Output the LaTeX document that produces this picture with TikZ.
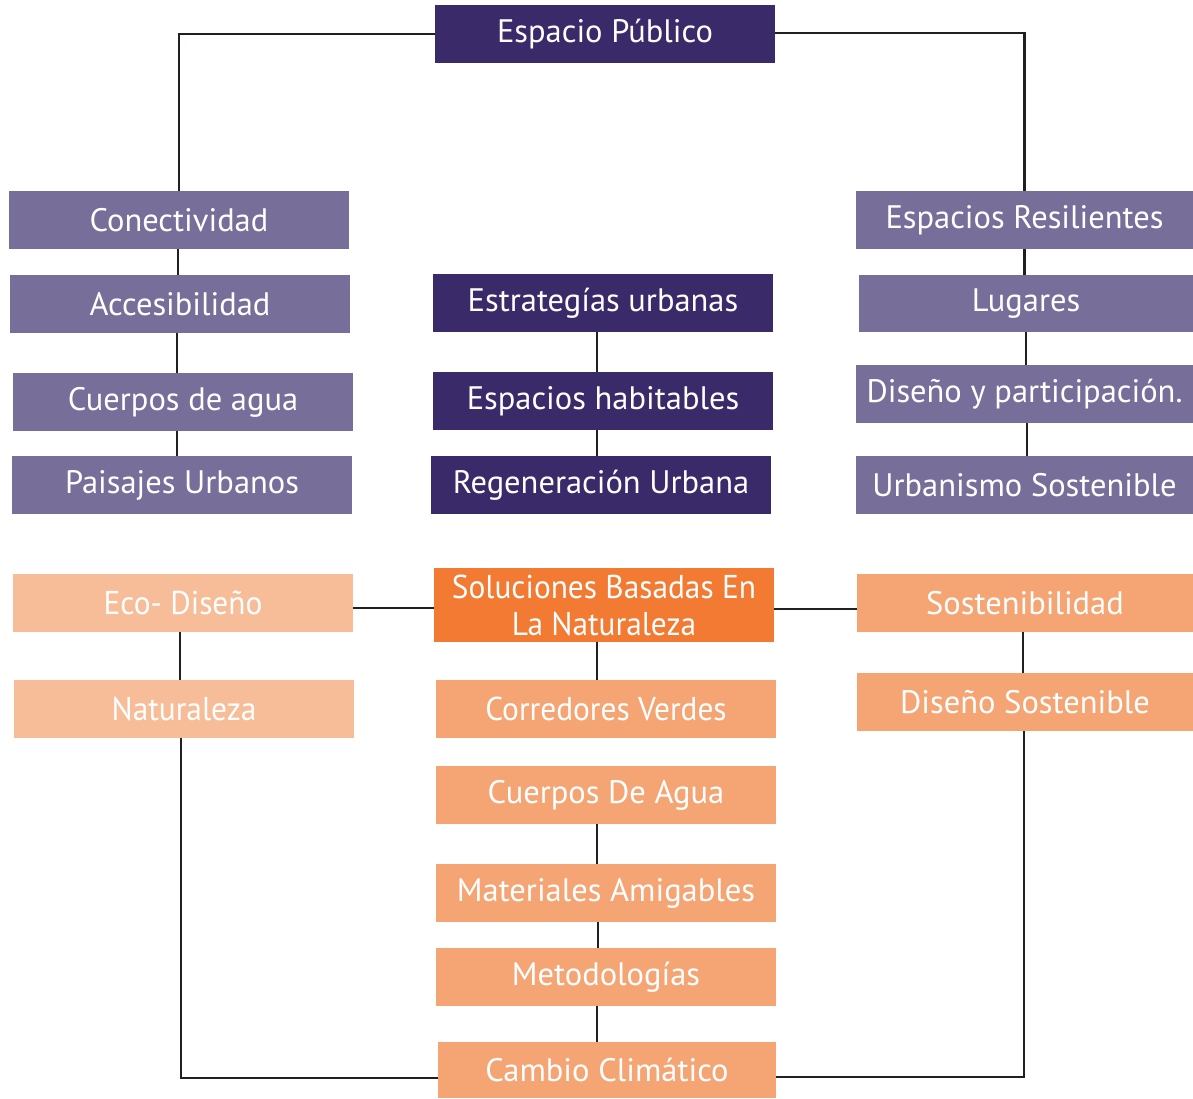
\documentclass[tikz,border=0pt]{standalone}
\usepackage{fontspec}
\setmainfont{PT Sans}
\newfontfamily\condfont[FakeStretch=0.95]{PT Sans}
\definecolor{dpurple}{HTML}{3A2A6A}
\definecolor{mpurple}{HTML}{776E9A}
\definecolor{orng}{HTML}{F27A33}
\definecolor{peach}{HTML}{F5A574}
\definecolor{lpeach}{HTML}{F7BD98}
\definecolor{lineclr}{HTML}{231F20}
\tikzset{
  box/.style={rectangle, minimum width=340pt, minimum height=58pt, inner sep=0pt, text=white, font=\fontsize{32.5}{37}\selectfont, align=center},
  dbox/.style={box, fill=dpurple},
  mbox/.style={box, fill=mpurple},
  obox/.style={box, fill=orng, font=\condfont\fontsize{33}{37}\selectfont},
  pbox/.style={box, fill=peach},
  cbox/.style={box, fill=peach, font=\condfont\fontsize{33}{37}\selectfont},
  lbox/.style={box, fill=lpeach, font=\condfont\fontsize{33}{37}\selectfont},
  conn/.style={draw=lineclr, line width=2.5pt}
}
\begin{document}
\begin{tikzpicture}[x=1pt,y=-1pt]
\useasboundingbox (0,0) rectangle (1193,1099);
% purple level
\node[dbox] (ep) at (605,34) {Espacio Público};
\node[mbox] (con) at (179,220) {Conectividad};
\node[mbox] (acc) at (180,304) {Accesibilidad};
\node[mbox] (cda) at (183,402) {Cuerpos de agua};
\node[mbox] (pai) at (182,485) {Paisajes Urbanos};
\node[dbox] (est) at (603,303) {Estrategías urbanas};
\node[dbox] (hab) at (603,401) {Espacios habitables};
\node[dbox] (reg) at (601,485) {Regeneración Urbana};
\node[mbox, minimum width=337pt] (res) at (1024.5,220) {Espacios Resilientes};
\node[mbox, minimum width=334pt, minimum height=57pt] (lug) at (1026,303.5) {Lugares};
\node[mbox, minimum width=337pt] (dis) at (1024.5,394) {Diseño y participación.};
\node[mbox, minimum width=337pt] (urb) at (1024.5,485) {Urbanismo Sostenible};
% orange level
\node[lbox] (eco) at (183,603) {Eco- Diseño};
\node[lbox] (nat) at (184,709) {Naturaleza};
\node[obox, minimum height=74pt] (sbn) at (604,605) {Soluciones Basadas En\\La Naturaleza};
\node[cbox] (cor) at (606,709) {Corredores Verdes};
\node[pbox] (cda2) at (606,795) {Cuerpos De Agua};
\node[pbox] (mat) at (606,893) {Materiales Amigables};
\node[pbox] (met) at (606,977) {Metodologías};
\node[pbox, minimum width=338pt, minimum height=56pt] (cam) at (607,1070) {Cambio Climático};
\node[pbox, minimum width=336pt] (sos) at (1025,603) {Sostenibilidad};
\node[pbox, minimum width=336pt] (dso) at (1025,702) {Diseño Sostenible};
% connectors
\draw[conn] (ep.west) -| (con.north);
\draw[conn] ([yshift=1pt]ep.east) -| (res.north);
\draw[conn] ([xshift=-1pt]con.south) -- ([xshift=-1pt]con.south |- acc.north);
\draw[conn] ([xshift=-3pt]acc.south) -- ([xshift=-3pt]acc.south |- cda.north);
\draw[conn] ([xshift=-6pt]cda.south) -- ([xshift=-6pt]cda.south |- pai.north);
\draw[conn] ([xshift=-6pt]est.south) -- ([xshift=-6pt]est.south |- hab.north);
\draw[conn] ([xshift=-6pt]hab.south) -- ([xshift=-6pt]hab.south |- reg.north);
\draw[conn] (res.south) -- (res.south |- lug.north);
\draw[conn] (lug.south) -- (lug.south |- dis.north);
\draw[conn] ([xshift=2.5pt]dis.south) -- ([xshift=2.5pt]dis.south |- urb.north);
\draw[conn] ([yshift=-5pt]eco.east) -- ([yshift=-5pt]eco.east -| sbn.west);
\draw[conn] ([yshift=-4pt]sbn.east) -- ([yshift=-4pt]sbn.east -| sos.west);
\draw[conn] ([xshift=-3pt]eco.south) -- ([xshift=-3pt]eco.south |- nat.north);
\draw[conn] ([xshift=-7pt]sbn.south) -- ([xshift=-7pt]sbn.south |- cor.north);
\draw[conn] ([xshift=-9pt]cda2.south) -- ([xshift=-9pt]cda2.south |- mat.north);
\draw[conn] ([xshift=-8pt]mat.south) -- ([xshift=-8pt]mat.south |- met.north);
\draw[conn] ([xshift=-9pt]met.south) -- ([xshift=-9pt]met.south |- cam.north);
\draw[conn] ([xshift=-2pt]sos.south) -- ([xshift=-2pt]sos.south |- dso.north);
\draw[conn] ([xshift=-3pt]nat.south) |- ([yshift=-8pt]cam.west);
\draw[conn] ([xshift=-1pt]dso.south) |- ([yshift=-7pt]cam.east);
\end{tikzpicture}
\end{document}
